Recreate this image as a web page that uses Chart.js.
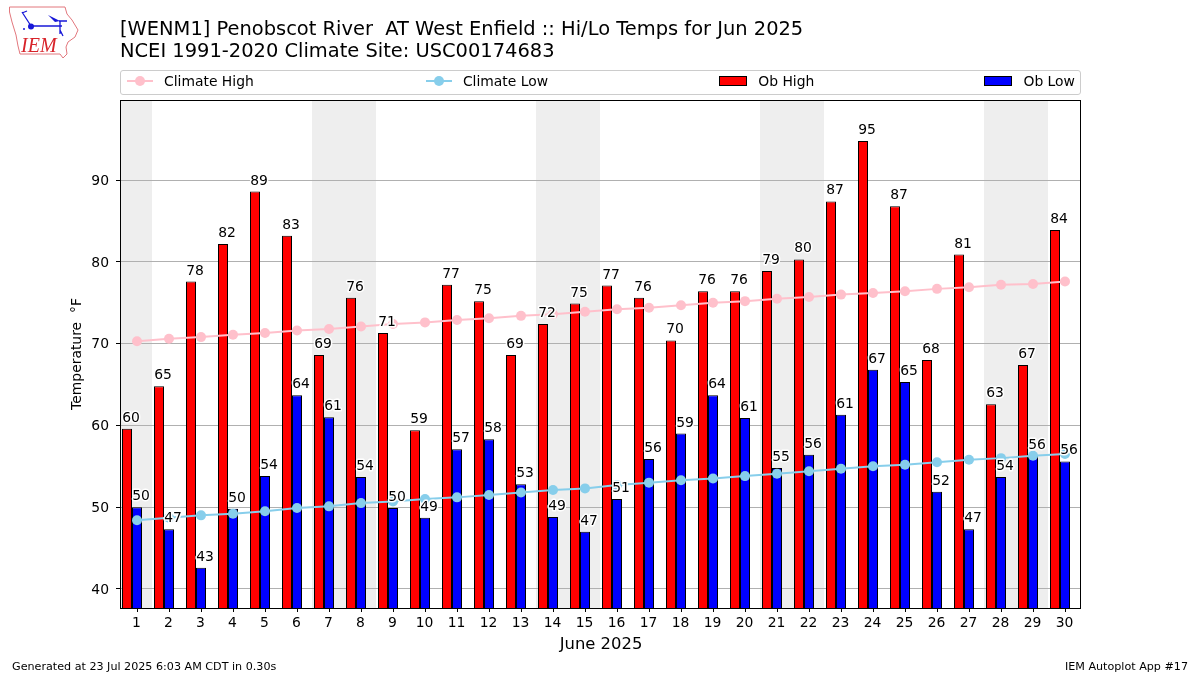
<!DOCTYPE html>
<html>
<head>
<meta charset="utf-8">
<title>WENM1 Hi/Lo Temps</title>
<script src="https://cdn.jsdelivr.net/npm/chart.js@4"></script>
<style>
	html, body { margin: 0; padding: 0; background: #fff; width: 1200px; height: 675px; overflow: hidden; }
	body { position: relative; font-family: "DejaVu Sans", sans-serif; color: #000; }
	canvas { position: absolute; left: 0; top: 0; }
	#logo { position: absolute; left: 0; top: 0; }
	#title { position: absolute; left: 120px; top: 18px; font-size: 19.45px; line-height: 22px; white-space: pre; }
	#legend {
		position: absolute; left: 120px; top: 70px; width: 948px; height: 23px; padding: 0 5px 0 6px;
		border: 1px solid #ccc; border-radius: 3px; display: flex; justify-content: space-between;
		align-items: center; font-size: 13.9px;
	}
	.item { display: flex; align-items: center; position: relative; top: -2px; }
	.item:nth-child(2), .item:nth-child(3) { left: 1px; }
	.item span { margin-left: 11px; }
	#foot-left, #foot-right { position: absolute; top: 660px; font-size: 11.15px; }
	#foot-left { left: 12px; }
	#foot-right { right: 12px; }
</style>
</head>
<body>
<canvas id="chart" width="1200" height="675"></canvas>
<svg id="logo" width="90" height="65" viewBox="0 0 90 65">
	<path d="M9.5 7 L65 7 L67 14 L72 20 L78 30 L75 37 L68 42 L66 47 L67 54 L63 58 L60 54 L20 54 L18 46 L16 35 L12 22 L9.5 12 Z" fill="none" stroke="#e2777d" stroke-width="1"/>
	<path d="M31 26 L62 26 M59 21 L67 21 M60 21 L60 34 M60 30 L63 36 M22 12 L31 26 M22 13 L27 11" fill="none" stroke="#1818d8" stroke-width="1.3"/>
	<path d="M48 15 L60 21 L55 22 Z" fill="#1818d8"/>
	<circle cx="31" cy="26.5" r="3" fill="#1818d8"/>
	<circle cx="24" cy="29" r="1" fill="#1818d8"/>
	<text x="21" y="52" font-family="Liberation Serif" font-style="italic" font-size="20" fill="#d8232a">IEM</text>
</svg>
<div id="title">[WENM1] Penobscot River  AT West Enfield :: Hi/Lo Temps for Jun 2025
NCEI 1991-2020 Climate Site: USC00174683</div>
<div id="legend"></div>
<div id="foot-left">Generated at 23 Jul 2025 6:03 AM CDT in 0.30s</div>
<div id="foot-right">IEM Autoplot App #17</div>
<script>
const days = ['1', '2', '3', '4', '5', '6', '7', '8', '9', '10', '11', '12', '13', '14', '15', '16', '17', '18', '19', '20', '21', '22', '23', '24', '25', '26', '27', '28', '29', '30'];
const obHigh = [59.6, 64.8, 77.6, 82.2, 88.6, 83.2, 68.6, 75.6, 71.3, 59.4, 77.2, 75.2, 68.6, 72.4, 74.9, 77.1, 75.6, 70.4, 76.4, 76.4, 78.9, 80.3, 87.4, 94.8, 86.8, 68.0, 80.9, 62.6, 67.4, 83.9];
const obLow = [50.0, 47.3, 42.6, 49.8, 53.8, 63.7, 61.0, 53.7, 49.9, 48.7, 57.1, 58.3, 52.8, 48.8, 47.0, 51.0, 55.9, 59.0, 63.7, 60.9, 54.8, 56.4, 61.3, 66.8, 65.3, 51.9, 47.3, 53.7, 56.3, 55.6];
const climateHigh = [70.3, 70.6, 70.8, 71.1, 71.3, 71.6, 71.8, 72.1, 72.4, 72.6, 72.9, 73.1, 73.4, 73.6, 73.9, 74.2, 74.4, 74.7, 75.0, 75.2, 75.5, 75.7, 76.0, 76.2, 76.4, 76.7, 76.9, 77.2, 77.3, 77.6];
const climateLow = [48.4, 48.7, 49.0, 49.2, 49.5, 49.9, 50.1, 50.5, 50.7, 51.0, 51.2, 51.5, 51.8, 52.1, 52.3, 52.7, 53.0, 53.3, 53.5, 53.8, 54.1, 54.4, 54.7, 55.0, 55.2, 55.5, 55.8, 56.0, 56.3, 56.5];
const weekendSpans = [['1', '1'], ['7', '8'], ['14', '15'], ['21', '22'], ['28', '29']];
const yTicks = [40, 50, 60, 70, 80, 90];

const FONT = '"DejaVu Sans", sans-serif';

// weekend bands go under the grid, so they have to be painted before the scales
// the axes frame sits 1px left of the chart area (see frameBox), the bands follow it
const weekendBands = {
	id: 'weekendBands',
	beforeDraw: function (chart) {
		const { ctx, chartArea, scales } = chart;
		const half = (scales.x.getPixelForValue(1) - scales.x.getPixelForValue(0)) / 2;
		ctx.save();
		ctx.fillStyle = '#eeeeee';
		weekendSpans.forEach(function (span) {
			const start = scales.x.getPixelForValue(days.indexOf(span[0])) - half - 1;
			const end = scales.x.getPixelForValue(days.indexOf(span[1])) + half - 1;
			ctx.fillRect(start, chartArea.top, end - start, chartArea.height);
		});
		ctx.restore();
	},
};

const barLabels = {
	id: 'barLabels',
	afterDatasetsDraw: function (chart) {
		const ctx = chart.ctx;
		ctx.save();
		ctx.font = '13.9px ' + FONT;
		ctx.textAlign = 'center';
		ctx.textBaseline = 'alphabetic';
		ctx.lineJoin = 'round';
		chart.data.datasets.forEach(function (dataset, i) {
			if (dataset.type === 'line' || !dataset.label) {
				return;
			}
			chart.getDatasetMeta(i).data.forEach(function (bar, j) {
				const text = String(Math.round(dataset.data[j]));
				ctx.strokeStyle = '#fff';
				ctx.lineWidth = 3;
				ctx.strokeText(text, bar.x + 4, bar.y - 7);
				ctx.fillStyle = '#000';
				ctx.fillText(text, bar.x + 4, bar.y - 7);
			});
		});
		ctx.restore();
	},
};

const frameBox = {
	id: 'frameBox',
	afterDraw: function (chart) {
		const { ctx, chartArea } = chart;
		ctx.save();
		ctx.strokeStyle = '#000';
		ctx.lineWidth = 1;
		ctx.strokeRect(chartArea.left - 0.5, chartArea.top + 0.5, chartArea.width, chartArea.height);
		ctx.restore();
	},
};

const chart = new Chart(document.getElementById('chart'), {
	type: 'bar',
	data: {
		labels: days,
		datasets: [
			{ type: 'line', label: 'Climate High', data: climateHigh, borderColor: 'pink', backgroundColor: 'pink', borderWidth: 2, pointRadius: 5, pointBorderWidth: 0, order: 1 },
			{ type: 'line', label: 'Climate Low', data: climateLow, borderColor: 'skyblue', backgroundColor: 'skyblue', borderWidth: 2, pointRadius: 5, pointBorderWidth: 0, order: 1 },
			{ label: 'Ob High', data: obHigh, backgroundColor: '#ff0000', borderColor: '#000', borderWidth: 1, borderSkipped: false, order: 2 },
			{ label: 'Ob Low', data: obLow, backgroundColor: '#0000ff', borderColor: '#000', borderWidth: 1, borderSkipped: false, order: 2 },
			// empty third slot keeps the blue bar centred on the day tick
			{ label: '', data: [], order: 2 },
		],
	},
	options: {
		responsive: false,
		animation: false,
		devicePixelRatio: 1,
		datasets: {
			bar: { barPercentage: 1, categoryPercentage: 0.9375 },
		},
		layout: {
			padding: { left: 69, right: 119, top: 100, bottom: 20 },
		},
		plugins: {
			legend: { display: false },
			tooltip: { enabled: false },
		},
		scales: {
			x: {
				offset: true,
				grid: { offset: false, drawOnChartArea: false, color: '#000', tickColor: '#000', tickLength: 4 },
				border: { display: false },
				ticks: { color: '#000', font: { family: FONT, size: 13.9 }, padding: 3, labelOffset: -0.5, maxRotation: 0, autoSkip: false },
				title: { display: true, text: 'June 2025', color: '#000', font: { family: FONT, size: 16.4 }, padding: { top: 3, bottom: 0 } },
				afterFit: function (scale) {
					scale.height = 47;
				},
			},
			y: {
				min: 37.67,
				max: 99.8,
				afterBuildTicks: function (scale) {
					scale.ticks = yTicks.map((value) => ({ value: value }));
				},
				grid: { color: '#b0b0b0', lineWidth: 1, tickColor: '#000', tickLength: 5 },
				border: { display: false },
				ticks: { color: '#000', font: { family: FONT, size: 13.9 }, padding: 7, labelOffset: 1 },
				title: { display: true, text: 'Temperature  °F', color: '#000', font: { family: FONT, size: 13.9 }, padding: 0 },
				afterFit: function (scale) {
					scale.width = 52;
				},
			},
		},
	},
	plugins: [weekendBands, barLabels, frameBox],
});

// matplotlib style legend strip, spread across the width of the axes
const legendBox = document.getElementById('legend');
chart.data.datasets.forEach(function (dataset) {
	if (!dataset.label) {
		return;
	}
	const item = document.createElement('div');
	item.className = 'item';
	const swatch = dataset.type === 'line'
		? '<svg width="26" height="14"><line x1="0" y1="7" x2="26" y2="7" stroke="' + dataset.borderColor + '" stroke-width="2"/><circle cx="13" cy="7" r="5" fill="' + dataset.backgroundColor + '"/></svg>'
		: '<svg width="28" height="14"><rect x="0.5" y="2.5" width="27" height="9" fill="' + dataset.backgroundColor + '" stroke="#000"/></svg>';
	item.innerHTML = swatch + '<span>' + dataset.label + '</span>';
	legendBox.appendChild(item);
});
</script>
</body>
</html>
